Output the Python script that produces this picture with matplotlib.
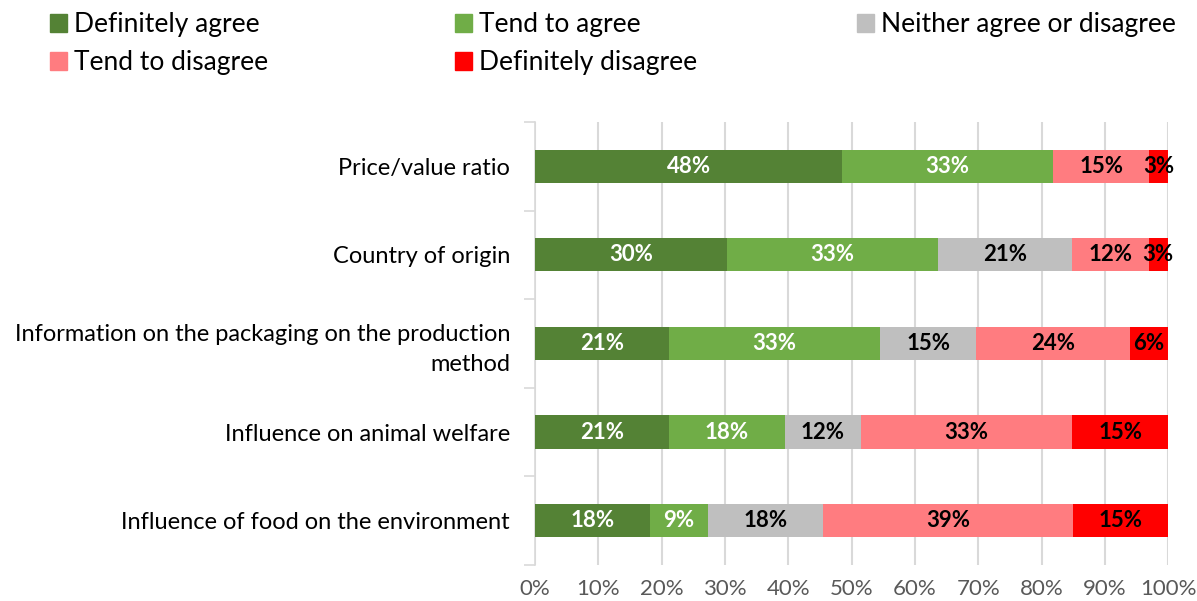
import matplotlib
matplotlib.use('Agg')
import numpy as np
import matplotlib.pyplot as plt
from matplotlib.patches import Patch

plt.rcParams['font.family'] = ['Lato', 'DejaVu Sans']

categories = ['Price/value ratio',
              'Country of origin',
              'Information on the packaging on the production\nmethod',
              'Influence on animal welfare',
              'Influence of food on the environment']
series = ['Definitely agree', 'Tend to agree', 'Neither agree or disagree',
          'Tend to disagree', 'Definitely disagree']
# percent of respondents per answer
definitely_agree = [48.5, 30.3, 21.2, 21.2, 18.2]
tend_agree = [33.3, 33.3, 33.3, 18.2, 9.1]
neither = [0.0, 21.2, 15.2, 12.1, 18.2]
tend_disagree = [15.2, 12.1, 24.2, 33.3, 39.4]
definitely_disagree = [3.0, 3.0, 6.1, 15.2, 15.2]
xticks = [0, 10, 20, 30, 40, 50, 60, 70, 80, 90, 100]

colors = ['#548235', '#70AD47', '#BFBFBF', '#FF7C80', '#FF0000']
label_colors = ['white', 'white', 'black', 'black', 'black']

data = [definitely_agree, tend_agree, neither, tend_disagree, definitely_disagree]

fig = plt.figure(figsize=(11.97, 6.01), dpi=100)
ax = fig.add_axes([0.447, 0.06, 0.529, 0.737])

y = np.arange(len(categories))
left = np.zeros(len(categories))
for vals, c, lc, name in zip(data, colors, label_colors, series):
    vals = np.array(vals)
    ax.barh(y, vals, left=left, height=0.375, color=c, label=name, zorder=3)
    for yi, v, l in zip(y, vals, left):
        if v > 0:
            ax.text(l + v / 2, yi, '%d%%' % round(v), ha='center', va='center',
                    color=lc, fontsize=16, fontweight='bold', zorder=4)
    left += vals

ax.set_xlim(0, 100)
ax.set_ylim(len(categories) - 0.5, -0.5)
ax.set_xticks(xticks)
ax.set_xticklabels(['%d%%' % t for t in xticks], fontsize=16, color='#595959')
ax.set_yticks(y)
ax.set_yticklabels(categories, fontsize=17, color='black', ha='right', linespacing=1.5)
ax.tick_params(axis='x', length=0, pad=10)
ax.tick_params(axis='y', length=0, pad=18)
# category separators on the left spine
ax.set_yticks(np.arange(-0.5, len(categories)), minor=True)
ax.tick_params(axis='y', which='minor', length=8, color='#D9D9D9', width=1.2)

ax.grid(axis='x', color='#D9D9D9', linewidth=1.5, zorder=0)
for s in ['top', 'right', 'bottom']:
    ax.spines[s].set_visible(False)
ax.spines['left'].set_color('#D9D9D9')
ax.spines['left'].set_linewidth(1.2)

# legend: three columns placed like the original
handles = [Patch(color=c) for c in colors]
columns = [[0, 3], [1, 4], [2]]
col_x = [50, 455, 857]
for idx, x0 in zip(columns, col_x):
    fig.legend([handles[i] for i in idx], [series[i] for i in idx],
               loc='upper left', bbox_to_anchor=(x0 / 1197, 1 - 12 / 601),
               frameon=False, fontsize=19, handlelength=0.65, handleheight=0.65,
               handletextpad=0.25, labelspacing=0.5, borderpad=0, borderaxespad=0)

fig.savefig('out.png', dpi=100)
